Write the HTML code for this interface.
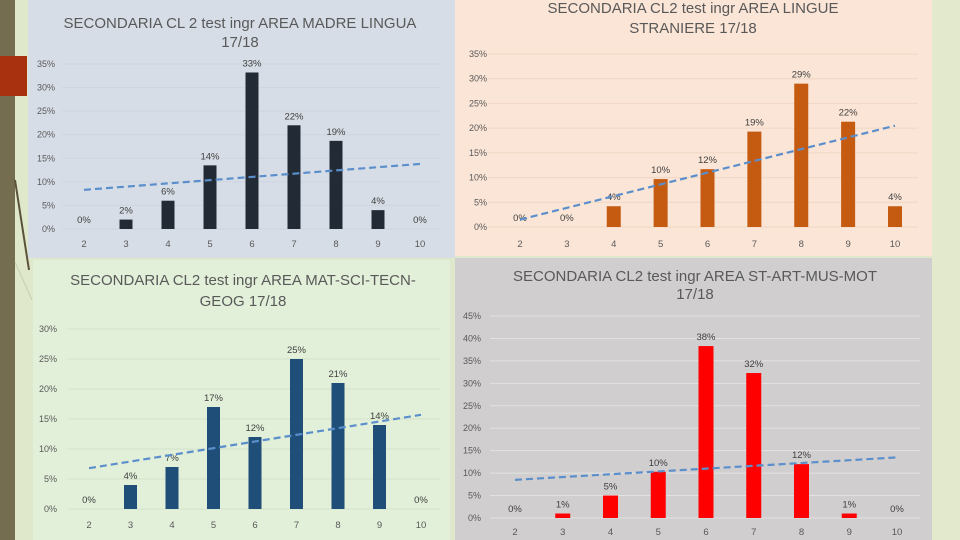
<!DOCTYPE html>
<html><head><meta charset="utf-8"><style>
body{margin:0;width:960px;height:540px;overflow:hidden;background:#e0e8cb;font-family:"Liberation Sans",sans-serif}
svg{display:block}
</style></head><body>
<svg id="s" width="960" height="540" xmlns="http://www.w3.org/2000/svg">
<rect x="0" y="0" width="960" height="540" fill="#e0e8cb"/>
<rect x="0" y="0" width="15" height="540" fill="#756d50"/>
<rect x="0" y="56" width="27" height="40" fill="#a8320f"/>
<line x1="15" y1="180" x2="29" y2="270" stroke="#5a523a" stroke-width="2"/>
<line x1="15" y1="262" x2="32" y2="300" stroke="#c8cfae" stroke-width="1"/>
<rect x="932" y="0" width="28" height="540" fill="#e2e9cd"/>
</svg>
<script>
const cats=[2,3,4,5,6,7,8,9,10];
const valsMadre=[0,2,6,13.5,33.2,22,18.7,4,0];
const lblMadre=["0%","2%","6%","14%","33%","22%","19%","4%","0%"];
const trendMadre=[8.3,13.8];
const ticksMadre=[0,5,10,15,20,25,30,35];
const valsLingue=[0,0,4.2,9.7,11.7,19.3,29,21.3,4.2];
const lblLingue=["0%","0%","4%","10%","12%","19%","29%","22%","4%"];
const trendLingue=[1.5,20.5];
const ticksLingue=[0,5,10,15,20,25,30,35];
const valsMat=[0,4,7,17,12,25,21,14,0];
const lblMat=["0%","4%","7%","17%","12%","25%","21%","14%","0%"];
const trendMat=[6.8,15.7];
const ticksMat=[0,5,10,15,20,25,30];
const valsArt=[0,1,5,10.3,38.3,32.3,12,1,0];
const lblArt=["0%","1%","5%","10%","38%","32%","12%","1%","0%"];
const trendArt=[8.5,13.5];
const ticksArt=[0,5,10,15,20,25,30,35,40,45];

const NS="http://www.w3.org/2000/svg";
const svg=document.getElementById('s');
function mk(tag,at,parent){const e=document.createElementNS(NS,tag);for(const k in at)e.setAttribute(k,at[k]);(parent||svg).appendChild(e);return e;}

function chart(c){
  const g=mk('g',{});
  
  
  const bg=mk('rect',{x:c.px,y:c.py,width:c.pw,height:c.ph,fill:c.bg},g);
  
  
  c.title.forEach((t,i)=>{
    const tx=mk('text',{x:c.tcx,y:c.ty+i*c.tl,'text-anchor':'middle','font-size':15,fill:'#595959'},g);
    tx.textContent=t;
    
    
  });
  const yMax=c.ticks[c.ticks.length-1];
  const y=v=>c.y0-(v/yMax)*(c.y0-c.yTop);
  const x=i=>c.x0+i*(c.x1-c.x0)/(cats.length-1);
  c.ticks.forEach(t=>{
    const gl=mk('line',{x1:c.gx0,x2:c.gx1,y1:y(t),y2:y(t),stroke:c.grid,'stroke-width':1},g);
    
    
    const tl=mk('text',{x:c.lx,y:y(t)+3,'text-anchor':'end','font-size':9,fill:'#595959'},g);
    tl.textContent=t+'%';
    
    
  });
  cats.forEach((cat,i)=>{
    const v=c.vals[i];
    const b=mk('rect',{x:x(i)-c.bw/2,y:y(v),width:c.bw,height:c.y0-y(v),fill:c.color},g);
    
    
    const dl=mk('text',{x:x(i),y:y(v)-6,'text-anchor':'middle','font-size':9.5,fill:'#404040'},g);
    dl.textContent=c.lbls[i];
    
    
    const xl=mk('text',{x:x(i),y:c.xly,'text-anchor':'middle','font-size':9.5,fill:'#595959'},g);
    xl.textContent=cat;
    
    
  });
  const tr=mk('line',{x1:x(0),y1:y(c.trend[0]),x2:x(cats.length-1),y2:y(c.trend[1]),stroke:'#5b8fcc','stroke-width':2.2,'stroke-dasharray':'7,4'},g);
  
  
}
chart({name:'chart-madre-lingua',px:28,py:0,pw:427,ph:258,bg:'#d7dde6',grid:'#cfd5de',title:['SECONDARIA CL 2 test ingr AREA MADRE LINGUA','17/18'],tcx:240,ty:28,tl:19,
  vals:valsMadre,lbls:lblMadre,trend:trendMadre,ticks:ticksMadre,y0:229,yTop:64,x0:84,x1:420,bw:13,color:'#222a35',lx:55,gx0:62,gx1:440,xly:247});
chart({name:'chart-lingue-straniere',px:455,py:0,pw:477,ph:256,bg:'#fbe5d6',grid:'#f0d6c4',title:['SECONDARIA CL2 test ingr AREA LINGUE','STRANIERE 17/18'],tcx:693,ty:13,tl:20,
  vals:valsLingue,lbls:lblLingue,trend:trendLingue,ticks:ticksLingue,y0:227,yTop:54,x0:520,x1:895,bw:14,color:'#c55a11',lx:487,gx0:488,gx1:918,xly:247});
chart({name:'chart-mat-sci-tecn',px:33,py:260,pw:417,ph:280,bg:'#e2efd9',grid:'#d4e1cb',title:['SECONDARIA CL2 test ingr AREA MAT-SCI-TECN-','GEOG 17/18'],tcx:243,ty:285,tl:21,
  vals:valsMat,lbls:lblMat,trend:trendMat,ticks:ticksMat,y0:509,yTop:329,x0:89,x1:421,bw:13,color:'#1f4e79',lx:57,gx0:68,gx1:440,xly:528});
chart({name:'chart-st-art-mus-mot',px:455,py:258,pw:477,ph:282,bg:'#d0cece',grid:'#e2e2e2',title:['SECONDARIA CL2 test ingr AREA ST-ART-MUS-MOT','17/18'],tcx:695,ty:281,tl:18,
  vals:valsArt,lbls:lblArt,trend:trendArt,ticks:ticksArt,y0:518,yTop:316,x0:515,x1:897,bw:15,color:'#ff0000',lx:481,gx0:490,gx1:920,xly:535});
</script>
</body></html>
